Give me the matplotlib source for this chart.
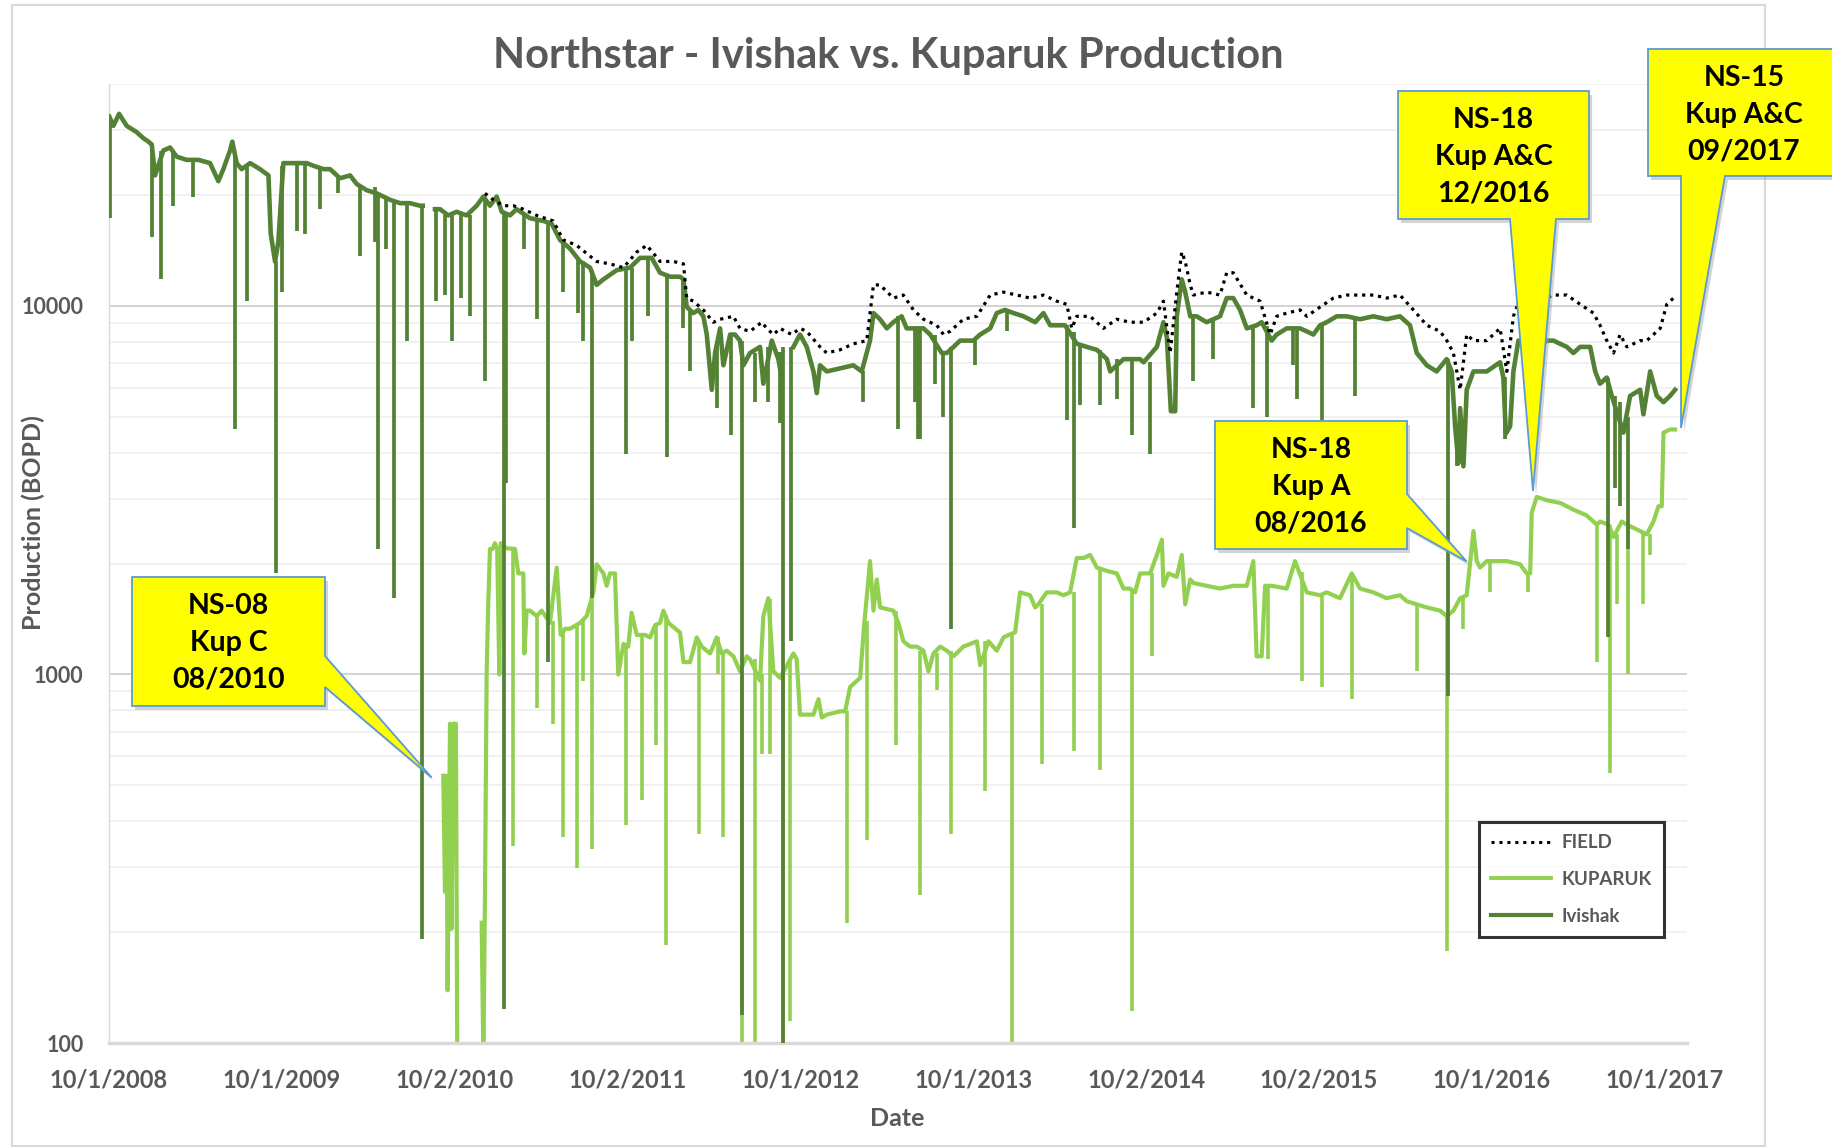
import matplotlib
matplotlib.use("Agg")
import matplotlib.pyplot as plt
from matplotlib.patches import Polygon, Rectangle
from matplotlib.ticker import LogLocator, NullFormatter
import numpy as np

nan = np.nan

# daily rates: (decimal year, BOPD)
ivishak = [
    (2008.754, 32600), (2008.777, 30800), (2008.810, 33200), (2008.854, 30800), (2008.912, 29600),
    (2008.951, 28500), (2008.980, 27900), (2008.999, 27400), (2009.018, 22600), (2009.066, 26400),
    (2009.105, 26900), (2009.143, 25400), (2009.201, 24900), (2009.269, 24900), (2009.336, 24400),
    (2009.384, 21800), (2009.413, 23500), (2009.452, 26400), (2009.465, 27900), (2009.490, 24400),
    (2009.519, 23500), (2009.568, 24400), (2009.625, 23500), (2009.674, 22600), (2009.687, 15700),
    (2009.712, 13200), (2009.731, 14900), (2009.760, 24400), (2009.809, 24400), (2009.857, 24400),
    (2009.895, 24400), (2009.934, 24000), (2009.992, 23500), (2010.030, 23500), (2010.088, 22200),
    (2010.146, 22600), (2010.185, 21400), (2010.242, 20600), (2010.300, 20200), (2010.338, 19800),
    (2010.377, 19400), (2010.435, 19000), (2010.492, 19000), (2010.550, 18700), (2010.566, 18700),
    (2010.580, nan), (2010.637, 18300), (2010.666, 18300), (2010.714, 17600), (2010.762, 18000),
    (2010.820, 17600), (2010.878, 18700), (2010.917, 19800), (2010.955, 18700), (2010.994, 19800),
    (2011.023, 18000), (2011.071, 17600), (2011.109, 18300), (2011.186, 17300), (2011.264, 17000),
    (2011.312, 16700), (2011.360, 15100), (2011.418, 14300), (2011.476, 13200), (2011.534, 12700),
    (2011.572, 11400), (2011.611, 11800), (2011.688, 12500), (2011.765, 12700), (2011.823, 13500),
    (2011.890, 13500), (2011.939, 12300), (2011.997, 12000), (2012.054, 12000), (2012.074, 11800),
    (2012.093, 9930), (2012.131, 9560), (2012.160, 9750), (2012.189, 9370), (2012.209, 8360),
    (2012.238, 5920), (2012.257, 7450), (2012.286, 8690), (2012.305, 6900), (2012.344, 8360),
    (2012.372, 8360), (2012.401, 8050), (2012.421, 6900), (2012.459, 7450), (2012.517, 7740),
    (2012.536, 6150), (2012.585, 8050), (2012.623, 7170), (2012.642, 6390), (2012.660, nan),
    (2012.710, 7740), (2012.748, 8360), (2012.787, 7740), (2012.826, 6640), (2012.845, 5800),
    (2012.864, 6900), (2012.903, 6640), (2012.980, 6770), (2013.057, 6900), (2013.105, 6640),
    (2013.134, 7450), (2013.153, 8050), (2013.173, 9560), (2013.211, 9200), (2013.250, 8690),
    (2013.288, 9030), (2013.336, 9370), (2013.365, 8690), (2013.404, 8690), (2013.462, 8690),
    (2013.501, 8360), (2013.568, 7450), (2013.597, 7450), (2013.636, 7740), (2013.674, 8050),
    (2013.751, 8050), (2013.790, 8360), (2013.848, 8690), (2013.886, 9560), (2013.934, 9750),
    (2013.983, 9560), (2014.041, 9370), (2014.108, 9030), (2014.156, 9560), (2014.195, 8860),
    (2014.243, 8860), (2014.281, 8860), (2014.349, 7890), (2014.407, 7740), (2014.465, 7600),
    (2014.523, 7170), (2014.542, 6640), (2014.619, 7170), (2014.715, 7170), (2014.735, 7030),
    (2014.812, 7740), (2014.850, 9030), (2014.870, 8200), (2014.893, 5180), (2014.918, 5180),
    (2014.927, 9370), (2014.956, 11800), (2014.976, 10900), (2015.005, 9370), (2015.042, 9370),
    (2015.100, 9030), (2015.177, 9370), (2015.216, 10500), (2015.254, 10500), (2015.293, 9750),
    (2015.332, 8690), (2015.389, 8860), (2015.418, 9030), (2015.476, 8050), (2015.505, 8360),
    (2015.563, 8690), (2015.640, 8690), (2015.679, 8530), (2015.717, 8360), (2015.756, 8860),
    (2015.794, 9030), (2015.852, 9370), (2015.910, 9370), (2015.987, 9200), (2016.064, 9370),
    (2016.141, 9200), (2016.218, 9370), (2016.276, 8860), (2016.315, 7450), (2016.373, 6900),
    (2016.430, 6640), (2016.488, 7170), (2016.517, 6640), (2016.537, 4710), (2016.556, 3740),
    (2016.566, 5280), (2016.585, 3670), (2016.604, 5920), (2016.643, 6640), (2016.720, 6640),
    (2016.797, 7030), (2016.816, 6390), (2016.830, 4500), (2016.855, 4710), (2016.874, 6640),
    (2016.903, 8050), (2016.951, 8050), (2017.028, 7740), (2017.067, 8050), (2017.106, 8050),
    (2017.144, 7890), (2017.183, 7740), (2017.221, 7450), (2017.260, 7740), (2017.318, 7740),
    (2017.347, 6640), (2017.375, 6150), (2017.414, 6390), (2017.443, 5700), (2017.510, 4530),
    (2017.549, 5700), (2017.607, 5920), (2017.626, 5080), (2017.665, 6640), (2017.703, 5700),
    (2017.742, 5480), (2017.780, 5700), (2017.809, 5920),
]

# one-day drops: (decimal year, low, level before)
ivishak_dips = [
    (2008.760, 17300, 32000), (2009.003, 15400, 27400), (2009.053, 11800, 26400),
    (2009.120, 18700, 26000), (2009.240, 19800, 24900), (2009.479, 4620, 26000),
    (2009.552, 10300, 24000), (2009.718, 1880, 13200), (2009.751, 10900, 24000),
    (2009.838, 16000, 24400), (2009.886, 15700, 24400), (2009.972, 18300, 23500),
    (2010.079, 20200, 22200), (2010.204, 13700, 21000), (2010.290, 14900, 21000),
    (2010.310, 2190, 20200), (2010.354, 14300, 19800), (2010.402, 1610, 19400),
    (2010.473, 8050, 19000), (2010.564, 192, 18700), (2010.641, 10300, 18300),
    (2010.695, 10700, 17600), (2010.733, 8050, 17600), (2010.785, 10500, 18000),
    (2010.839, 9370, 17600), (2010.926, 6270, 19400), (2011.038, 124, 18000),
    (2011.045, 3300, 18000), (2011.152, 14300, 17600), (2011.225, 9200, 17300),
    (2011.289, 1080, 16700), (2011.379, 10900, 15100), (2011.466, 9560, 13500),
    (2011.495, 8050, 13200), (2011.547, 1610, 12500), (2011.742, 3960, 12700),
    (2011.774, 8050, 12700), (2011.871, 9370, 13500), (2011.977, 3890, 12000),
    (2012.070, 8690, 11800), (2012.112, 6640, 9750), (2012.270, 5280, 8000),
    (2012.347, 4450, 8360), (2012.411, 119, 8050), (2012.488, 5480, 7450),
    (2012.565, 5480, 7740), (2012.633, 4800, 7500), (2012.652, 90, 7740),
    (2012.696, 1230, 7740), (2013.115, 5480, 6640), (2013.317, 4620, 9370),
    (2013.414, 5480, 8690), (2013.433, 4360, 8690), (2013.443, 4360, 8690),
    (2013.530, 6150, 8360), (2013.578, 4990, 7450), (2013.622, 1330, 7740),
    (2013.761, 6900, 8050), (2013.944, 8530, 9750), (2014.291, 4890, 8860),
    (2014.330, 2500, 8500), (2014.368, 5380, 7890), (2014.484, 5380, 7600),
    (2014.580, 5590, 7170), (2014.667, 4450, 7170), (2014.773, 3960, 7030),
    (2015.023, 6270, 9500), (2015.139, 7170, 9200), (2015.370, 5280, 8700),
    (2015.447, 4990, 8800), (2015.602, 6900, 8690), (2015.621, 5590, 8690),
    (2015.765, 4890, 8860), (2015.958, 5700, 9300), (2016.498, 873, 7170),
    (2016.546, 3670, 4700), (2016.826, 4360, 6400), (2017.424, 1260, 6390),
    (2017.462, 3210, 5700), (2017.491, 2860, 5500), (2017.539, 2190, 5000),
]

kuparuk = [
    (2010.685, 531), (2010.695, 257), (2010.704, 531), (2010.710, 139), (2010.724, 735),
    (2010.733, 204), (2010.743, 735), (2010.758, 735), (2010.766, 90), (2010.780, nan),
    (2010.907, 212), (2010.917, 90), (2010.926, 247), (2010.936, 1020), (2010.945, 1550),
    (2010.955, 2190), (2010.970, 2190), (2010.984, 2270), (2010.997, 2190), (2011.009, 1000),
    (2011.017, 2270), (2011.050, 2200), (2011.100, 2190), (2011.119, 1880), (2011.148, 1880),
    (2011.154, 1140), (2011.167, 1490), (2011.186, 1490), (2011.225, 1440), (2011.254, 1490),
    (2011.302, 1380), (2011.341, 1950), (2011.364, 1280), (2011.389, 1330), (2011.418, 1330),
    (2011.476, 1380), (2011.514, 1440), (2011.553, 1670), (2011.572, 1990), (2011.611, 1880),
    (2011.630, 1740), (2011.649, 1880), (2011.678, 1880), (2011.697, 1000), (2011.727, 1210),
    (2011.755, 1190), (2011.774, 1470), (2011.804, 1280), (2011.852, 1280), (2011.881, 1260),
    (2011.910, 1360), (2011.939, 1380), (2011.958, 1490), (2011.987, 1380), (2012.054, 1300),
    (2012.074, 1080), (2012.112, 1080), (2012.151, 1260), (2012.180, 1190), (2012.228, 1140),
    (2012.266, 1260), (2012.295, 1140), (2012.324, 1160), (2012.363, 1120), (2012.401, 1020),
    (2012.440, 1120), (2012.459, 1100), (2012.517, 961), (2012.536, 1440), (2012.565, 1610),
    (2012.594, 1020), (2012.633, 979), (2012.710, 1140), (2012.729, 1100), (2012.748, 778),
    (2012.787, 778), (2012.826, 778), (2012.855, 857), (2012.874, 764), (2012.903, 778),
    (2012.980, 794), (2013.009, 794), (2013.038, 925), (2013.096, 979), (2013.119, 1360),
    (2013.153, 2030), (2013.173, 1490), (2013.192, 1810), (2013.211, 1520), (2013.288, 1490),
    (2013.317, 1380), (2013.346, 1230), (2013.385, 1190), (2013.424, 1190), (2013.462, 1160),
    (2013.491, 1020), (2013.520, 1140), (2013.559, 1190), (2013.597, 1160), (2013.636, 1120),
    (2013.693, 1190), (2013.771, 1230), (2013.790, 1060), (2013.838, 1230), (2013.886, 1160),
    (2013.925, 1260), (2013.954, 1280), (2013.992, 1300), (2014.021, 1670), (2014.079, 1640),
    (2014.108, 1520), (2014.127, 1550), (2014.175, 1670), (2014.233, 1670), (2014.272, 1640),
    (2014.310, 1670), (2014.349, 2070), (2014.388, 2070), (2014.426, 2110), (2014.465, 1950),
    (2014.523, 1910), (2014.580, 1880), (2014.619, 1710), (2014.657, 1710), (2014.686, 1670),
    (2014.715, 1880), (2014.773, 1880), (2014.812, 2110), (2014.841, 2320), (2014.850, 1740),
    (2014.879, 1880), (2014.927, 1840), (2014.956, 2110), (2014.976, 1550), (2015.005, 1810),
    (2015.023, 1770), (2015.100, 1740), (2015.177, 1710), (2015.254, 1740), (2015.332, 1740),
    (2015.370, 2030), (2015.389, 1120), (2015.418, 1120), (2015.438, 1740), (2015.476, 1740),
    (2015.563, 1710), (2015.611, 2030), (2015.679, 1670), (2015.756, 1640), (2015.794, 1670),
    (2015.871, 1610), (2015.939, 1880), (2015.987, 1710), (2016.064, 1670), (2016.141, 1610),
    (2016.218, 1640), (2016.257, 1580), (2016.373, 1520), (2016.450, 1490), (2016.488, 1440),
    (2016.527, 1490), (2016.566, 1610), (2016.604, 1640), (2016.643, 2450), (2016.662, 2030),
    (2016.681, 1950), (2016.720, 2030), (2016.758, 2030), (2016.836, 2030), (2016.913, 1990),
    (2016.951, 1880), (2016.971, 1880), (2016.980, 2750), (2017.009, 3030), (2017.067, 2970),
    (2017.144, 2920), (2017.221, 2800), (2017.298, 2700), (2017.356, 2550), (2017.375, 2600),
    (2017.424, 2550), (2017.453, 2360), (2017.501, 2600), (2017.530, 2550), (2017.568, 2500),
    (2017.607, 2450), (2017.645, 2400), (2017.684, 2600), (2017.713, 2860), (2017.732, 2860),
    (2017.742, 4530), (2017.780, 4620), (2017.809, 4620),
]

kuparuk_dips = [
    (2011.090, 342, 2200), (2011.229, 809, 1440), (2011.321, 735, 1400), (2011.375, 362, 1300),
    (2011.460, 299, 1350), (2011.495, 961, 1400), (2011.547, 336, 1600), (2011.742, 391, 1200),
    (2011.833, 456, 1280), (2011.916, 643, 1360), (2011.973, 185, 1450), (2012.166, 369, 1230),
    (2012.276, 1000, 1260), (2012.305, 362, 1150), (2012.411, 90, 1020), (2012.488, 90, 1100),
    (2012.527, 607, 1000), (2012.575, 607, 1600), (2012.652, 90, 1000), (2012.691, 115, 1100),
    (2013.018, 212, 794), (2013.134, 355, 1400), (2013.304, 643, 1490), (2013.443, 252, 1160),
    (2013.539, 908, 1140), (2013.620, 369, 1160), (2013.819, 483, 1230), (2013.973, 90, 1280),
    (2014.147, 573, 1550), (2014.330, 619, 1670), (2014.484, 552, 1950), (2014.667, 122, 1710),
    (2014.783, 1120, 1880), (2015.457, 1100, 1740), (2015.650, 961, 1900), (2015.765, 925, 1640),
    (2015.943, 857, 1880), (2016.315, 1020, 1560), (2016.492, 178, 1440), (2016.585, 1330, 1610),
    (2016.739, 1670, 2030), (2016.961, 1670, 1880), (2017.360, 1080, 2550), (2017.433, 541, 2550),
    (2017.472, 1550, 2400), (2017.539, 1000, 2550), (2017.626, 1550, 2450), (2017.665, 2110, 2400),
]

field = [
    (2010.926, 20200), (2010.974, 19400), (2011.032, 18700), (2011.090, 18700), (2011.148, 18300),
    (2011.225, 17600), (2011.321, 17000), (2011.379, 15100), (2011.456, 14600), (2011.572, 13200),
    (2011.649, 13000), (2011.727, 12700), (2011.804, 14000), (2011.862, 14600), (2011.939, 13200),
    (2012.016, 13200), (2012.074, 13000), (2012.093, 10500), (2012.131, 10300), (2012.189, 9750),
    (2012.247, 9030), (2012.286, 9200), (2012.363, 9370), (2012.401, 8690), (2012.459, 8530),
    (2012.527, 9030), (2012.556, 8690), (2012.594, 8360), (2012.633, 8690), (2012.700, 8360),
    (2012.748, 8690), (2012.787, 8530), (2012.864, 7740), (2012.903, 7450), (2012.980, 7600),
    (2013.057, 7890), (2013.134, 8050), (2013.173, 11400), (2013.211, 11400), (2013.288, 10500),
    (2013.346, 10700), (2013.404, 9750), (2013.462, 9200), (2013.539, 8860), (2013.578, 8360),
    (2013.616, 8530), (2013.693, 9200), (2013.771, 9370), (2013.848, 10700), (2013.925, 10900),
    (2014.002, 10700), (2014.079, 10500), (2014.156, 10700), (2014.233, 10300), (2014.291, 10100),
    (2014.320, 8690), (2014.349, 9370), (2014.426, 9370), (2014.503, 8690), (2014.580, 9200),
    (2014.657, 9030), (2014.735, 9030), (2014.812, 9560), (2014.850, 10300), (2014.889, 7450),
    (2014.927, 10900), (2014.956, 14000), (2014.976, 13200), (2015.005, 11400), (2015.023, 10700),
    (2015.100, 10900), (2015.177, 10700), (2015.216, 12300), (2015.254, 12300), (2015.332, 10700),
    (2015.409, 10300), (2015.467, 8360), (2015.505, 9370), (2015.563, 9560), (2015.640, 9750),
    (2015.679, 9370), (2015.756, 9930), (2015.833, 10500), (2015.910, 10700), (2015.987, 10700),
    (2016.064, 10700), (2016.141, 10500), (2016.218, 10700), (2016.296, 9750), (2016.373, 8860),
    (2016.450, 8530), (2016.489, 8050), (2016.527, 7450), (2016.566, 5920), (2016.604, 8360),
    (2016.643, 8050), (2016.720, 8050), (2016.797, 8690), (2016.836, 6640), (2016.874, 9370),
    (2016.913, 10500), (2016.990, 10500), (2017.067, 10500), (2017.106, 10700), (2017.183, 10700),
    (2017.260, 10100), (2017.337, 9560), (2017.375, 8860), (2017.414, 8050), (2017.453, 7450),
    (2017.491, 8360), (2017.530, 7740), (2017.607, 8050), (2017.645, 8050), (2017.684, 8360),
    (2017.723, 8690), (2017.761, 10100), (2017.800, 10500),
]

tick_years = [2008.75 + k for k in range(10)]
tick_labels = ['10/1/2008', '10/1/2009', '10/2/2010', '10/2/2011', '10/1/2012',
               '10/1/2013', '10/2/2014', '10/2/2015', '10/1/2016', '10/1/2017']

callouts = ['NS-08\nKup C\n08/2010', 'NS-18\nKup A\n08/2016',
            'NS-18\nKup A&C\n12/2016', 'NS-15\nKup A&C\n09/2017']

DARK = '#548235'
LIGHT = '#92D050'
GREY = '#595959'
FONT = 'Lato'

W, H = 1833, 1147
fig = plt.figure(figsize=(W / 100, H / 100), dpi=100)

def fp(x, y):
    # pixel position -> figure fraction
    return (x / W, 1 - y / H)

ax = fig.add_axes([108.7 / W, 1 - 1043 / H, (1687 - 108.7) / W, (1043 - 84) / H])

def xy(series):
    a = np.array(series, dtype=float)
    return a[:, 0], a[:, 1]

kx, ky = xy(kuparuk)
ix, iy = xy(ivishak)
fx, fy = xy(field)
kd = np.array(kuparuk_dips)
idp = np.array(ivishak_dips)

ax.plot(kx, ky, color=LIGHT, lw=3.0, zorder=2, solid_joinstyle='round')
ax.vlines(kd[:, 0], kd[:, 1], kd[:, 2], color=LIGHT, lw=2.6, zorder=2)
ax.plot(ix, iy, color=DARK, lw=3.3, zorder=3, solid_joinstyle='round')
ax.vlines(idp[:, 0], idp[:, 1], idp[:, 2], color=DARK, lw=2.7, zorder=3)
ax.plot(fx, fy, color='black', lw=2.3, ls=(0, (1, 1.5)), zorder=4)

ax.set_yscale('log')
ax.set_ylim(100, 40000)
ax.set_xlim(2008.75, 2017.878)
ax.set_yticks([100, 1000, 10000], labels=['100', '1000', '10000'])
ax.yaxis.set_minor_locator(LogLocator(base=10, subs=np.arange(2, 10)))
ax.yaxis.set_minor_formatter(NullFormatter())
ax.set_xticks(tick_years, labels=tick_labels)
ax.grid(which='major', axis='y', color='#cfcfcf', lw=1.3, zorder=0)
ax.grid(which='minor', axis='y', color='#ededed', lw=1.1, zorder=0)
ax.set_axisbelow(True)
ax.tick_params(which='both', length=0)
ax.tick_params(axis='x', pad=18, labelsize=17, labelcolor=GREY)
ax.tick_params(axis='y', pad=18, labelsize=15.5, labelcolor=GREY)
for lab in ax.get_xticklabels() + ax.get_yticklabels():
    lab.set_fontfamily(FONT)
    lab.set_fontweight('bold')
for s in ['top', 'right']:
    ax.spines[s].set_visible(False)
ax.spines['left'].set_color('#d9d9d9')
ax.spines['left'].set_linewidth(1.0)
ax.spines['bottom'].set_color('#d9d9d9')
ax.spines['bottom'].set_linewidth(2.5)

fig.text(*fp(888, 56), 'Northstar - Ivishak vs. Kuparuk Production', ha='center', va='center',
         fontsize=30, fontweight='bold', color=GREY, family=FONT)
fig.text(*fp(897, 1119), 'Date', ha='center', va='center', fontsize=18,
         fontweight='bold', color=GREY, family=FONT)
fig.text(*fp(33, 523), 'Production (BOPD)', ha='center', va='center', rotation=90,
         fontsize=18, fontweight='bold', color=GREY, family=FONT)

# chart area border
fig.patches.append(Rectangle(fp(12, 1146), (1765 - 12) / W, (1146 - 5) / H, transform=fig.transFigure,
                             fill=False, edgecolor='#d9d9d9', lw=1.5, zorder=0))

# legend
h_field, = ax.plot([], [], color='black', lw=2.2, ls=(0, (1, 1.6)))
h_kup, = ax.plot([], [], color=LIGHT, lw=2.8)
h_ivi, = ax.plot([], [], color=DARK, lw=3.0)
leg = fig.legend([h_field, h_kup, h_ivi], ['FIELD', 'KUPARUK', 'Ivishak'],
                 loc='upper left', bbox_to_anchor=fp(1479, 822), bbox_transform=fig.transFigure,
                 frameon=True, fancybox=False, borderaxespad=0, handlelength=3.2,
                 handletextpad=0.55, labelspacing=1.05, borderpad=0.65,
                 prop={'family': FONT, 'weight': 'bold', 'size': 13.5})
leg.get_frame().set_edgecolor('black')
leg.get_frame().set_linewidth(2.2)
for t in leg.get_texts():
    t.set_color(GREY)

# callout shapes, drawn in pixel positions of the page
shapes = [
    [(132, 577), (325, 577), (325, 656), (431.7, 777.6), (325, 687), (325, 706), (132, 706)],
    [(1215, 421), (1407, 421), (1407, 494), (1466.7, 561.5), (1407, 528), (1407, 549), (1215, 549)],
    [(1398, 91), (1589, 91), (1589, 219), (1556, 219), (1533, 491), (1510, 219), (1398, 219)],
    [(1648, 49), (1845, 49), (1845, 176), (1725, 176), (1681, 428), (1681, 176), (1648, 176)],
]
centres = [(228.5, 643), (1311, 487), (1493.5, 157), (1744, 115)]
for pts, c, txt in zip(shapes, centres, callouts):
    shadow = [fp(x + 3, y + 4) for x, y in pts]
    fig.patches.append(Polygon(shadow, closed=True, transform=fig.transFigure,
                               facecolor='#a0a0a0', edgecolor='none', alpha=0.45, zorder=5))
    fig.patches.append(Polygon([fp(x, y) for x, y in pts], closed=True, transform=fig.transFigure,
                               facecolor='#FFFF00', edgecolor='#5B9BD5', lw=1.3, zorder=6))
    fig.text(*fp(*c), txt, ha='center', va='center', fontsize=20.5, fontweight='bold',
             color='black', family=FONT, linespacing=1.5, zorder=7)

fig.savefig('out.png', dpi=100)
